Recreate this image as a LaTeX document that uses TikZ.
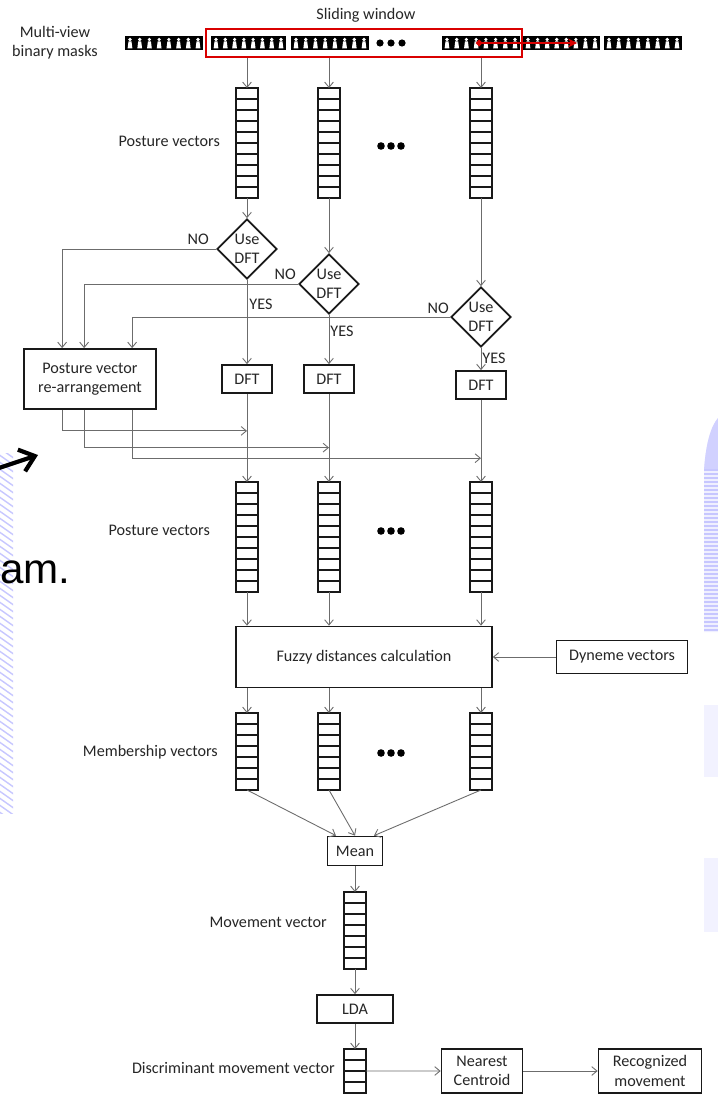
\documentclass[tikz,border=0pt]{standalone}
\usepackage{fontspec}
\setmainfont{Carlito}
\newfontfamily\slidefont{Liberation Sans}
\usepackage{tikz}
\usetikzlibrary{shapes.geometric, arrows.meta, positioning, calc}

\tikzset{
  box/.style={draw=black!90, line width=1pt, fill=white, inner sep=2pt, align=center},
  vec/.style={draw=black!90, line width=1pt, fill=white, minimum width=0.44cm, inner sep=0pt, outer sep=0pt},
  cellline/.style={black!90, line width=0.9pt},
  decision/.style={diamond, draw=black!90, line width=1pt, fill=white, minimum width=1.2cm, minimum height=1.2cm, inner sep=0pt, align=center},
  flow/.style={draw=gray!85!black, line width=0.5pt, -{Straight Barb[length=3pt, width=5pt]}},
  winred/.style={draw=red!85!black, line width=1.1pt},
}

% vector of cells: name, x, top y, number of cells
\newcommand{\vecstack}[4]{%
  \node[vec, minimum height=#4*0.22cm, anchor=north] (#1) at (#2,#3) {};
  \pgfmathtruncatemacro{\nlast}{#4-1}
  \foreach \k in {1,...,\nlast}
    \draw[cellline] ($(#1.north west)!\k/#4!(#1.south west)$) -- ($(#1.north east)!\k/#4!(#1.south east)$);
}

\begin{document}
\begin{tikzpicture}[x=0.02cm, y=-0.02cm, font=\fontsize{9.2}{11}\selectfont, text=black!85]
    \useasboundingbox (0,0) rectangle (718,1095);
    \clip (0,0) rectangle (718,1095);
    \fill[white] (0,0) rectangle (718,1095);

    % Slide background
    \begin{scope}
      \clip (0,453) rectangle (13,813);
      \foreach \s in {440,447,...,820}
        \draw[blue!22, line width=0.8pt] (-2,\s) -- (15,\s+12);
    \end{scope}
    \begin{scope}
      \clip (704,632) -- (704,470) .. controls (706,440) and (712,425) .. (718,418) -- (718,632) -- cycle;
      \fill[blue!6] (700,410) rectangle (720,640);
      \fill[blue!18] (700,410) rectangle (720,470);
      \foreach \s in {470,474,...,632}
        \draw[blue!22, line width=0.7pt] (700,\s) -- (720,\s);
    \end{scope}
    \fill[blue!5] (704,705) rectangle (718,777);
    \fill[blue!5] (704,858) rectangle (718,932);
    \draw[black, line width=2.4pt, -{Straight Barb[length=8pt, width=13pt]}] (-4,469) -- (38,455);
    \node[anchor=base west, inner sep=0pt, font=\slidefont\fontsize{24}{26}\selectfont, text=black] (amtext) at (0,583) {am.};

    % Binary masks
    \foreach \xs/\xe in {125/203, 211/286, 291/369, 442/520, 523/600, 604/682}{
      \fill[black] (\xs,36) rectangle (\xe,50);
      \foreach \f in {0,...,7}{
        \pgfmathsetmacro{\fx}{\xs+5+\f*(\xe-\xs-10)/7}
        \fill[white] (\fx,39.5) circle (1.8);
        \fill[white] (\fx-1.5,41.5) -- (\fx+1.5,41.5) -- (\fx+2.4,48.5) -- (\fx-2.4,48.5) -- cycle;
      }
    }
    \foreach \dx in {380,391,402} \fill[black] (\dx,43) circle (3.6);
    \node[winred, minimum width=6.32cm, minimum height=0.56cm, inner sep=0pt] (win) at (364,43) {};
    \node (slide) at (366,15) {Sliding window};
    \node[align=center] (masks) at (55,43) {Multi-view\\binary masks};
    \coordinate (ws) at (476,43);
    \coordinate (we) at (577,43);
    \draw[red!85!black, line width=1.3pt, {Circle[length=3.5pt]}-{Stealth[length=5pt, width=5pt]}] (ws) -- (we);

    % Posture vectors
    \vecstack{top1}{247}{88}{10}
    \vecstack{top2}{329}{88}{10}
    \vecstack{top3}{481}{88}{10}
    \foreach \dx in {381,391,401} \fill[black] (\dx,146) circle (3.8);
    \node[anchor=east] (pvlab) at (226,141) {Posture vectors};

    % DFT decisions
    \node[decision] (use1) at (247,249) {Use\\DFT};
    \node[decision] (use2) at (329,284) {Use\\DFT};
    \node[decision] (use3) at (481,317) {Use\\DFT};
    \node[box, minimum width=2.64cm, minimum height=1.2cm] (rear) at (90,379) {Posture vector\\re-arrangement};
    \node[box, minimum width=1cm, minimum height=0.56cm] (dft1) at (247,379) {DFT};
    \node[box, minimum width=1cm, minimum height=0.56cm] (dft2) at (329,379) {DFT};
    \node[box, minimum width=1cm, minimum height=0.56cm] (dft3) at (481,385) {DFT};
    \node (no1) at ($(use1.west)+(-18,-10)$) {NO};
    \node (no2) at ($(use2.west)+(-13,-10)$) {NO};
    \node (no3) at ($(use3.west)+(-12,-9)$) {NO};
    \node (yes1) at ($(use1.south)+(14,24)$) {YES};
    \node (yes2) at ($(use2.south)+(13,16)$) {YES};
    \node (yes3) at ($(use3.south)+(13,10)$) {YES};

    % Posture vectors after DFT
    \vecstack{mid1}{247}{482}{10}
    \vecstack{mid2}{329}{482}{10}
    \vecstack{mid3}{481}{482}{10}
    \foreach \dx in {381,391,401} \fill[black] (\dx,531) circle (3.8);
    \node[anchor=east] (pvlab2) at (216,530) {Posture vectors};

    % Fuzzy distances
    \node[box, minimum width=5.12cm, minimum height=1.22cm] (fuzzy) at (364,657) {Fuzzy distances calculation};
    \node[box, minimum width=2.62cm, minimum height=0.66cm] (dyn) at (622,657) {Dyneme vectors};

    % Membership vectors
    \vecstack{mem1}{247}{713}{7}
    \vecstack{mem2}{329}{713}{7}
    \vecstack{mem3}{481}{713}{7}
    \foreach \dx in {381,391,401} \fill[black] (\dx,753) circle (3.8);
    \node[anchor=east] (memlab) at (224,752) {Membership vectors};

    % Movement vector and classification
    \node[box, minimum width=1.1cm, minimum height=0.58cm] (mean) at (355,851) {Mean};
    \vecstack{move}{355}{892}{7}
    \node[anchor=east] (movelab) at (333,922) {Movement vector};
    \node[box, minimum width=1.52cm, minimum height=0.56cm] (lda) at (355,1009) {LDA};
    \vecstack{disc}{355}{1049}{4}
    \node[anchor=east] (disclab) at (341,1068) {Discriminant movement vector};
    \node[box, minimum width=1.62cm, minimum height=0.88cm] (near) at (482,1071) {Nearest\\Centroid};
    \node[box, minimum width=2.06cm, minimum height=0.88cm] (recog) at (650,1071) {Recognized\\movement};

    % Connectors
    \foreach \c in {1,2,3}{
      \draw[flow] (win.south -| top\c) -- (top\c);
      \draw[flow] (top\c) -- (use\c);
      \draw[flow] (use\c) -- (dft\c);
      \draw[flow] (dft\c) -- (mid\c);
      \draw[flow] (mid\c) -- (fuzzy.north -| mid\c);
      \draw[flow] (fuzzy.south -| mem\c) -- (mem\c);
    }
    \draw[flow] (use1.west) -| ($(rear.north west)+(39,0)$);
    \draw[flow] (use2.west) -| ($(rear.north west)+(61,0)$);
    \draw[flow] (use3.west) -| ($(rear.north west)+(109,0)$);
    \draw[flow] ($(rear.south west)+(39,0)$) |- ($(dft1.south)!0.42!(mid1.north)$);
    \draw[flow] ($(rear.south west)+(61,0)$) |- ($(dft2.south)!0.61!(mid2.north)$);
    \draw[flow] ($(rear.south west)+(109,0)$) |- ($(dft3.south)!0.71!(mid3.north)$);
    \draw[flow] (dyn) -- (fuzzy);
    \draw[flow] (mem1.south) -- ($(mean.north)+(-19,0)$);
    \draw[flow] (mem2.south) -- (mean.north);
    \draw[flow] (mem3.south) -- ($(mean.north)+(19,0)$);
    \draw[flow] (mean) -- (move);
    \draw[flow] (move) -- (lda);
    \draw[flow] (lda) -- (disc);
    \draw[flow] (disc) -- (near);
    \draw[flow] (near) -- (recog);
\end{tikzpicture}
\end{document}
